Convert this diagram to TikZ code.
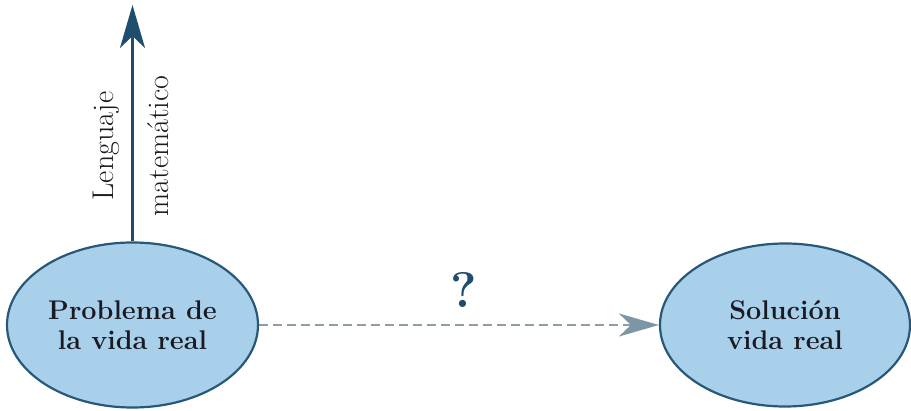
\documentclass[tikz,border=0pt]{standalone}
\usetikzlibrary{shapes.geometric,arrows.meta}
\definecolor{fillblue}{HTML}{A9D0EA}
\definecolor{edgeblue}{HTML}{285878}
\definecolor{arrowblue}{HTML}{1F4D6E}
\definecolor{dashgray}{HTML}{8E9EA8}
\definecolor{tipgray}{HTML}{7D96A6}
\definecolor{txt}{HTML}{1A1A22}
\tikzset{
  blob/.style={ellipse, draw=edgeblue, line width=2.2pt, fill=fillblue, inner sep=0pt,
    minimum width=251pt, minimum height=165pt, align=center, text=txt,
    font=\fontsize{27}{30}\selectfont\bfseries},
  vlabel/.style={rotate=90, anchor=base, inner sep=0pt, text=txt,
    font=\fontsize{30}{32}\selectfont},
  uparrow/.style={draw=arrowblue, line width=2.6pt, -{Stealth[length=43pt,width=25pt,inset=12pt]}},
  guess/.style={draw=dashgray, line width=2pt, dash pattern=on 9pt off 5pt,
    -{Stealth[length=40pt,width=23pt,inset=12pt,color=tipgray,fill=tipgray]}},
}
\begin{document}
\begin{tikzpicture}[x=1pt,y=1pt]
\useasboundingbox (0,0) rectangle (911,410);
\node[blob] (P) at (132.5,85) {Problema de\\la vida real};
\node[blob, minimum width=250pt, minimum height=163pt] (S) at (785,85) {Solución\\vida real};
\coordinate (top) at (132.5,405);
\draw[uparrow] (P.north) -- (top);
\node[vlabel] (L1) at (113,264) {Lenguaje};
\node[vlabel] (L2) at (168,264) {matemático};
\draw[guess] (P.east) -- (S.west);
\node[text=arrowblue, font=\fontsize{50}{52}\selectfont\bfseries] (Q) at (464,120) {?};
\end{tikzpicture}
\end{document}
